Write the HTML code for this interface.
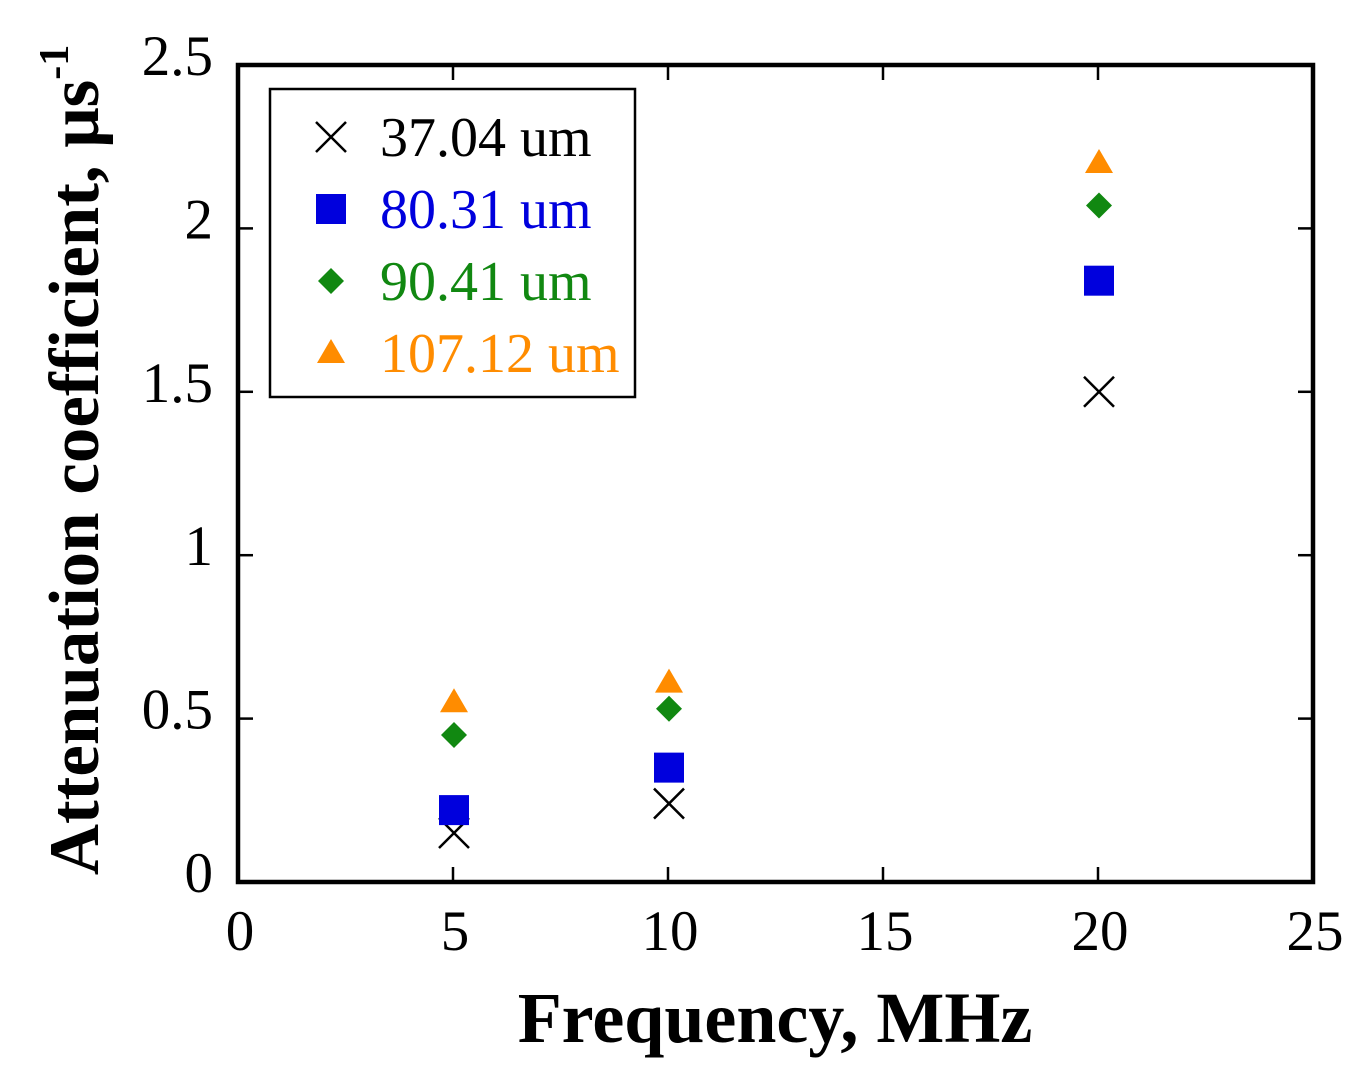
<!DOCTYPE html>
<html><head><meta charset="utf-8"><style>
body{margin:0;background:#fff;}
svg text{font-family:"Liberation Serif",serif;}
</style></head><body>
<svg id="chart" width="1367" height="1081" xmlns="http://www.w3.org/2000/svg">
<g id="ticks"></g>
<g id="marks"></g>
<rect x="238" y="65" width="1075" height="817" fill="none" stroke="#000" stroke-width="4.5"/>
<text x="775" y="1042" font-size="72" font-weight="bold" text-anchor="middle">Frequency, MHz</text>
<text transform="translate(98,460) rotate(-90)" font-size="71" font-weight="bold" text-anchor="middle">Attenuation coefficient, μs<tspan dy="-30" font-size="42">-1</tspan></text>
<g>
<rect x="270" y="89" width="365" height="308" fill="#fff" stroke="#000" stroke-width="2.5"/>
<g id="legend-items"></g>
</g>
</svg>
<script>
const xTicks=[0,5,10,15,20,25];
const yTicks=[0,0.5,1,1.5,2,2.5];
const yTickLabels=["0","0.5","1","1.5","2","2.5"];
const freqs=[5,10,20];
const seriesNames=["37.04 um","80.31 um","90.41 um","107.12 um"];
const s1=[0.15,0.24,1.50];
const s2=[0.22,0.35,1.84];
const s3=[0.45,0.53,2.07];
const s4=[0.55,0.61,2.20];
const series=[s1,s2,s3,s4];
const colors=["#000","#0000dd","#118811","#ff8c00"];
const shapes=["x","square","diamond","triangle"];
const NS="http://www.w3.org/2000/svg";
const X=v=>238+v*(1075/25);
const Y=v=>882-v*(817/2.5);
function mk(tag,attrs,parent){const e=document.createElementNS(NS,tag);for(const k in attrs)e.setAttribute(k,attrs[k]);parent.appendChild(e);return e;}
const tg=document.getElementById('ticks');
xTicks.forEach(v=>{
  const x=X(v);
  const t1=mk('line',{x1:x,x2:x,y1:882,y2:867,stroke:'#000','stroke-width':2.5},tg);
  
  
  const t2=mk('line',{x1:x,x2:x,y1:65,y2:80,stroke:'#000','stroke-width':2.5},tg);
  
  
  const l=mk('text',{x:x+2,y:950,'font-size':57,'text-anchor':'middle'},tg);
  l.textContent=v;
  
  
});
yTicks.forEach((v,i)=>{
  const y=Y(v);
  const t1=mk('line',{x1:238,x2:253,y1:y,y2:y,stroke:'#000','stroke-width':2.5},tg);
  
  
  const t2=mk('line',{x1:1298,x2:1313,y1:y,y2:y,stroke:'#000','stroke-width':2.5},tg);
  
  
  const l=mk('text',{x:213,y:y+10,'font-size':57,'text-anchor':'end'},tg);
  l.textContent=yTickLabels[i];
  
  
});
function marker(shape,cx,cy,color,parent){
  let e;
  if(shape==='x'){
    e=mk('path',{d:`M${cx-15},${cy-15}L${cx+15},${cy+15}M${cx-15},${cy+15}L${cx+15},${cy-15}`,stroke:color,'stroke-width':2.5,fill:'none'},parent);
  }else if(shape==='square'){
    e=mk('rect',{x:cx-15,y:cy-15,width:30,height:30,fill:color},parent);
  }else if(shape==='diamond'){
    e=mk('path',{d:`M${cx},${cy-13}L${cx+13},${cy}L${cx},${cy+13}L${cx-13},${cy}Z`,fill:color},parent);
  }else{
    e=mk('path',{d:`M${cx},${cy-14}L${cx+14},${cy+10}L${cx-14},${cy+10}Z`,fill:color},parent);
  }
  return e;
}
const mg=document.getElementById('marks');
series.forEach((s,si)=>{
  s.forEach((v,i)=>{
    const e=marker(shapes[si],X(freqs[i])+1,Y(v),colors[si],mg);
    
    
  });
});
const lg=document.getElementById('legend-items');
seriesNames.forEach((n,i)=>{
  const y=137+i*72;
  const m=marker(shapes[i],331,y,colors[i],lg);
  
  
  const t=mk('text',{x:380,y:y+19,'font-size':56,fill:colors[i]},lg);
  t.textContent=n;
  
  
});
</script>
</body></html>
